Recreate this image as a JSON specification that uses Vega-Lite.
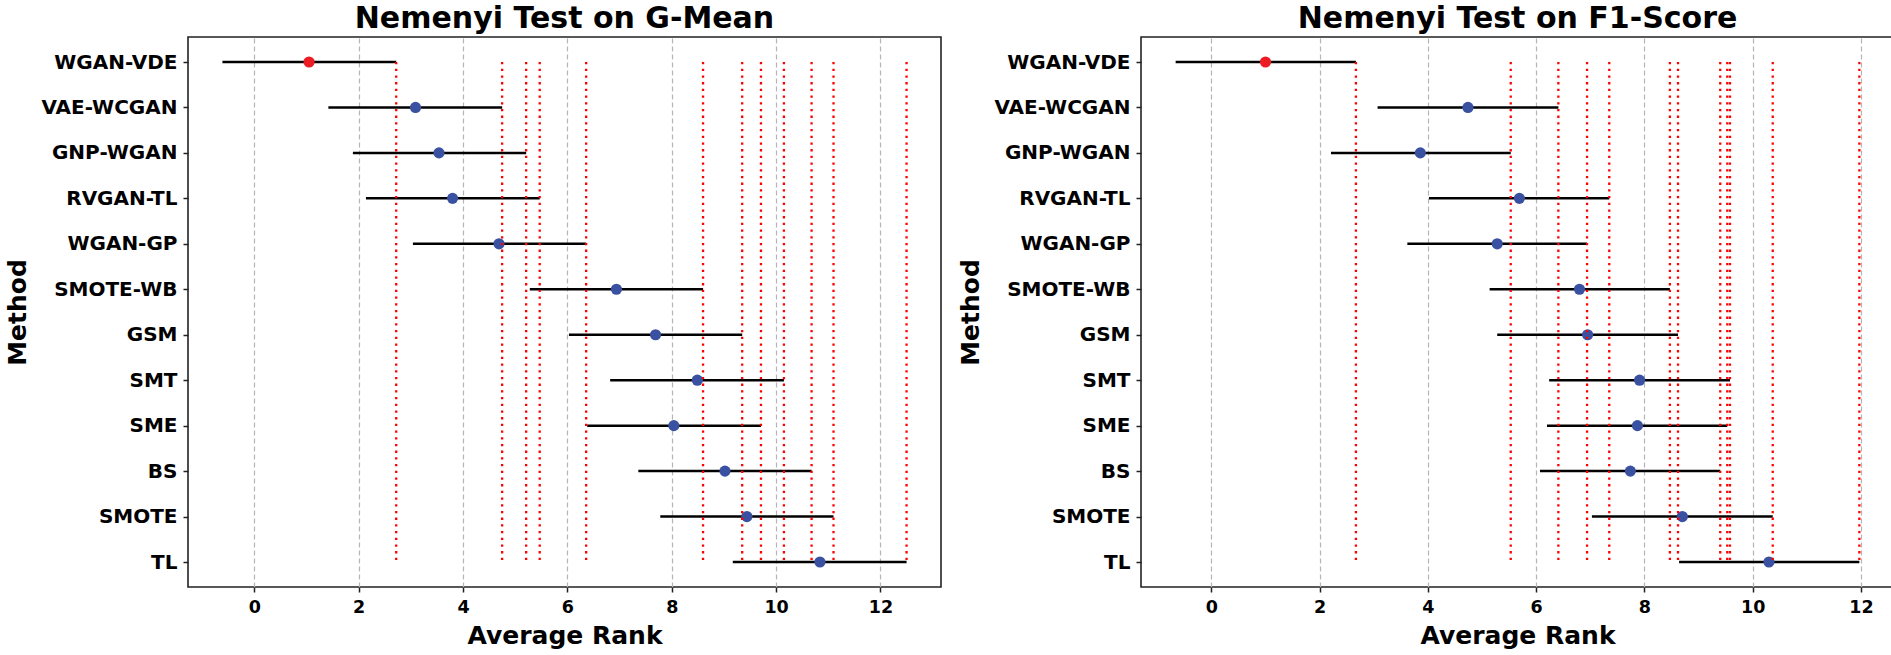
{
  "$schema": "https://vega.github.io/schema/vega-lite/v6.json",
  "background": "white",
  "padding": {"left": 5, "top": 3, "right": 3, "bottom": 3},
  "config": {
    "font": "DejaVu Sans",
    "view": {"stroke": "#222222", "strokeWidth": 1.6},
    "axis": {
      "labelFont": "DejaVu Sans", "labelFontWeight": "bold", "labelColor": "black",
      "titleFont": "DejaVu Sans", "titleFontWeight": "bold", "titleColor": "black",
      "domain": false, "tickColor": "#222222", "tickWidth": 1.5, "tickSize": 5
    },
    "title": {"font": "DejaVu Sans", "fontSize": 30, "fontWeight": "bold", "color": "black", "frame": "group", "anchor": "middle", "offset": 3},
    "concat": {"spacing": 16}
  },
  "datasets": {
    "ranks": [
      {"metric": "G-Mean", "Method": "WGAN-VDE", "rank": 1.05, "lo": -0.61, "hi": 2.72},
      {"metric": "G-Mean", "Method": "VAE-WCGAN", "rank": 3.09, "lo": 1.42, "hi": 4.75},
      {"metric": "G-Mean", "Method": "GNP-WGAN", "rank": 3.54, "lo": 1.89, "hi": 5.21},
      {"metric": "G-Mean", "Method": "RVGAN-TL", "rank": 3.80, "lo": 2.14, "hi": 5.47},
      {"metric": "G-Mean", "Method": "WGAN-GP", "rank": 4.69, "lo": 3.04, "hi": 6.36},
      {"metric": "G-Mean", "Method": "SMOTE-WB", "rank": 6.94, "lo": 5.28, "hi": 8.60},
      {"metric": "G-Mean", "Method": "GSM", "rank": 7.69, "lo": 6.03, "hi": 9.35},
      {"metric": "G-Mean", "Method": "SMT", "rank": 8.49, "lo": 6.82, "hi": 10.15},
      {"metric": "G-Mean", "Method": "SME", "rank": 8.04, "lo": 6.38, "hi": 9.71},
      {"metric": "G-Mean", "Method": "BS", "rank": 9.02, "lo": 7.36, "hi": 10.68},
      {"metric": "G-Mean", "Method": "SMOTE", "rank": 9.44, "lo": 7.78, "hi": 11.10},
      {"metric": "G-Mean", "Method": "TL", "rank": 10.84, "lo": 9.17, "hi": 12.50},
      {"metric": "F1-Score", "Method": "WGAN-VDE", "rank": 1.00, "lo": -0.66, "hi": 2.67},
      {"metric": "F1-Score", "Method": "VAE-WCGAN", "rank": 4.74, "lo": 3.07, "hi": 6.41},
      {"metric": "F1-Score", "Method": "GNP-WGAN", "rank": 3.86, "lo": 2.21, "hi": 5.53},
      {"metric": "F1-Score", "Method": "RVGAN-TL", "rank": 5.69, "lo": 4.02, "hi": 7.35},
      {"metric": "F1-Score", "Method": "WGAN-GP", "rank": 5.28, "lo": 3.62, "hi": 6.94},
      {"metric": "F1-Score", "Method": "SMOTE-WB", "rank": 6.80, "lo": 5.14, "hi": 8.47},
      {"metric": "F1-Score", "Method": "GSM", "rank": 6.95, "lo": 5.28, "hi": 8.62},
      {"metric": "F1-Score", "Method": "SMT", "rank": 7.91, "lo": 6.24, "hi": 9.58},
      {"metric": "F1-Score", "Method": "SME", "rank": 7.87, "lo": 6.20, "hi": 9.53},
      {"metric": "F1-Score", "Method": "BS", "rank": 7.74, "lo": 6.07, "hi": 9.40},
      {"metric": "F1-Score", "Method": "SMOTE", "rank": 8.70, "lo": 7.03, "hi": 10.37},
      {"metric": "F1-Score", "Method": "TL", "rank": 10.30, "lo": 8.64, "hi": 11.97}
    ]
  },
  "hconcat": [
    {
      "width": 753, "height": 550,
      "title": "Nemenyi Test on G-Mean",
      "data": {"name": "ranks"},
      "transform": [{"filter": "datum.metric === 'G-Mean'"}],
      "encoding": {
        "y": {"field": "Method", "type": "nominal", "sort": null,
              "scale": {"type": "point", "padding": 0.55},
              "axis": {"title": "Method", "labelFontSize": 20, "titleFontSize": 25, "labelPadding": 6, "titlePadding": 10, "grid": false}}
      },
      "layer": [
        {"mark": {"type": "rule", "color": "black", "strokeWidth": 2.5},
         "encoding": {
           "x": {"field": "lo", "type": "quantitative",
                 "scale": {"domain": [-1.27, 13.16], "nice": false, "zero": false},
                 "axis": {"title": "Average Rank", "values": [0, 2, 4, 6, 8, 10, 12], "format": "d", "labelFontSize": 17.5, "titleFontSize": 25, "labelPadding": 6, "titlePadding": 8, "grid": true, "gridColor": "#b5b5b5", "gridDash": [5, 3], "gridWidth": 1.2}},
           "x2": {"field": "hi"}
         }},
        {"mark": {"type": "circle", "size": 125, "opacity": 1},
         "encoding": {
           "x": {"field": "rank", "type": "quantitative"},
           "color": {"condition": {"test": "datum.Method === 'WGAN-VDE'", "value": "#ec1c24"}, "value": "#3a51a2"}
         }},
        {"mark": {"type": "rule", "color": "red", "strokeWidth": 2.3, "strokeDash": [2.3, 4.4]},
         "encoding": {
           "x": {"field": "hi", "type": "quantitative"},
           "y": {"datum": "WGAN-VDE"},
           "y2": {"datum": "TL"}
         }}
      ]
    },
    {
      "width": 753, "height": 550,
      "title": "Nemenyi Test on F1-Score",
      "data": {"name": "ranks"},
      "transform": [{"filter": "datum.metric === 'F1-Score'"}],
      "encoding": {
        "y": {"field": "Method", "type": "nominal", "sort": null,
              "scale": {"type": "point", "padding": 0.55},
              "axis": {"title": "Method", "labelFontSize": 20, "titleFontSize": 25, "labelPadding": 6, "titlePadding": 10, "grid": false}}
      },
      "layer": [
        {"mark": {"type": "rule", "color": "black", "strokeWidth": 2.5},
         "encoding": {
           "x": {"field": "lo", "type": "quantitative",
                 "scale": {"domain": [-1.30, 12.61], "nice": false, "zero": false},
                 "axis": {"title": "Average Rank", "values": [0, 2, 4, 6, 8, 10, 12], "format": "d", "labelFontSize": 17.5, "titleFontSize": 25, "labelPadding": 6, "titlePadding": 8, "grid": true, "gridColor": "#b5b5b5", "gridDash": [5, 3], "gridWidth": 1.2}},
           "x2": {"field": "hi"}
         }},
        {"mark": {"type": "circle", "size": 125, "opacity": 1},
         "encoding": {
           "x": {"field": "rank", "type": "quantitative"},
           "color": {"condition": {"test": "datum.Method === 'WGAN-VDE'", "value": "#ec1c24"}, "value": "#3a51a2"}
         }},
        {"mark": {"type": "rule", "color": "red", "strokeWidth": 2.3, "strokeDash": [2.3, 4.4]},
         "encoding": {
           "x": {"field": "hi", "type": "quantitative"},
           "y": {"datum": "WGAN-VDE"},
           "y2": {"datum": "TL"}
         }}
      ]
    }
  ]
}
